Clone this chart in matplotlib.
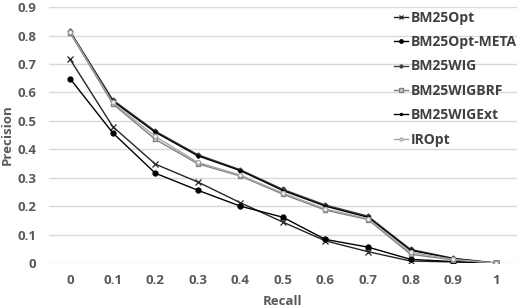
import matplotlib.pyplot as plt

recall = [0, 0.1, 0.2, 0.3, 0.4, 0.5, 0.6, 0.7, 0.8, 0.9, 1]
recall_labels = ['0', '0.1', '0.2', '0.3', '0.4', '0.5', '0.6', '0.7', '0.8', '0.9', '1']

bm25opt = [0.716, 0.48, 0.348, 0.285, 0.212, 0.144, 0.078, 0.04, 0.007, 0.004, 0.0]
bm25opt_meta = [0.648, 0.458, 0.316, 0.256, 0.200, 0.161, 0.083, 0.056, 0.013, 0.005, 0.0]
bm25wig = [0.815, 0.574, 0.464, 0.381, 0.328, 0.259, 0.204, 0.165, 0.048, 0.017, 0.0]
bm25wigbrf = [0.810, 0.560, 0.435, 0.349, 0.306, 0.242, 0.186, 0.153, 0.031, 0.011, 0.0]
bm25wigext = [0.812, 0.570, 0.460, 0.377, 0.325, 0.255, 0.200, 0.161, 0.045, 0.015, 0.0]
iropt = [0.812, 0.565, 0.445, 0.354, 0.309, 0.246, 0.190, 0.156, 0.038, 0.013, 0.0]

plt.rcParams.update({'font.family': 'Open Sans'})
fig = plt.figure(figsize=(5.2, 3.08), dpi=100, facecolor='white')
ax = fig.add_axes([0.094, 0.146, 0.9, 0.831])

# series, colours and markers
ax.plot(recall, bm25opt, color='#262626', lw=1, marker='x', ms=4, mew=0.9, label='BM25Opt')
ax.plot(recall, bm25opt_meta, color='#000000', lw=1, marker='o', ms=3.5, label='BM25Opt-META')
ax.plot(recall, bm25wig, color='#404040', lw=1, marker='D', ms=2.5, label='BM25WIG')
ax.plot(recall, bm25wigbrf, color='#7f7f7f', lw=1, marker='s', ms=3.5, mfc='#d0d0d0',
        mec='#7f7f7f', label='BM25WIGBRF')
ax.plot(recall, bm25wigext, color='#000000', lw=1, marker='o', ms=2, label='BM25WIGExt')
ax.plot(recall, iropt, color='#a6a6a6', lw=1, marker='o', ms=3, mfc='white',
        mec='#a6a6a6', label='IROpt')

ax.set_xlim(-0.05, 1.05)
ax.set_ylim(0, 0.9)
ax.set_xticks(recall)
ax.set_xticklabels(recall_labels)
ax.set_yticks([i / 10 for i in range(10)])
ax.set_yticklabels(['0'] + [f'{i / 10:.1f}' for i in range(1, 10)])
ax.grid(axis='y', color='#d9d9d9', lw=1)
ax.set_axisbelow(True)
for s in ax.spines.values():
    s.set_visible(False)
ax.tick_params(axis='y', length=0, labelsize=9.5, labelcolor='#595959', pad=9)
ax.tick_params(axis='x', length=0, labelsize=9.5, labelcolor='#595959', pad=8)
for lab in ax.get_xticklabels() + ax.get_yticklabels():
    lab.set_fontweight('bold')

ax.set_xlabel('Recall', fontsize=9.5, fontweight='bold', color='#595959')
ax.xaxis.set_label_coords(0.5, -0.125)
ax.set_ylabel('Precision', fontsize=9.5, fontweight='bold', color='#595959')
ax.yaxis.set_label_coords(-0.075, 0.5)

leg = ax.legend(loc='upper left', bbox_to_anchor=(0.71, 1.035), frameon=False,
                handlelength=1.0, handletextpad=0.2, labelspacing=0.75,
                markerscale=0.7, prop={'weight': 'bold', 'size': 10})
for t in leg.get_texts():
    t.set_color('#404040')

plt.savefig('out.png', dpi=100)
